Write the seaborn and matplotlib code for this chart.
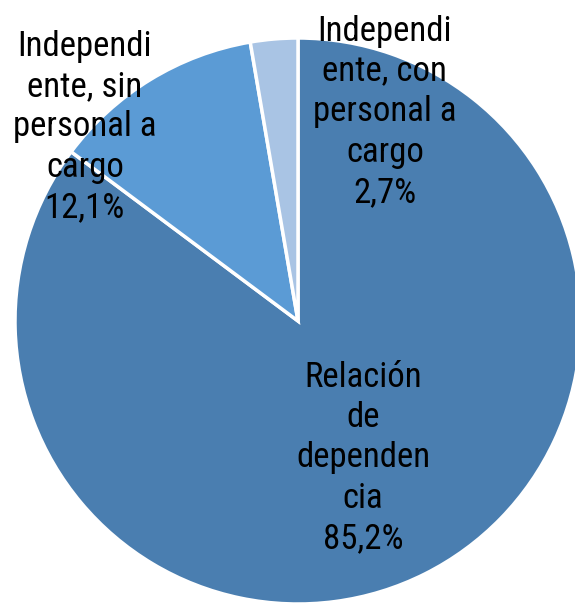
import matplotlib
matplotlib.use("Agg")
import matplotlib.pyplot as plt
import seaborn as sns

sns.set_style("white")

categories = ["Relación\nde\ndependen\ncia", "Independi\nente, sin\npersonal a\ncargo", "Independi\nente, con\npersonal a\ncargo"]
values = [85.2, 12.1, 2.7]
pct_labels = ["85,2%", "12,1%", "2,7%"]
colors = ["#4a7eb0", "#5b9bd5", "#a9c4e4"]

plt.rcParams["font.family"] = ["Roboto Condensed", "Archivo Narrow", "Liberation Sans", "DejaVu Sans"]

W, H = 575, 603
fig = plt.figure(figsize=(W / 100, H / 100), dpi=100)
cx, cy, R = 298, 321, 283
ax = fig.add_axes([(cx - R) / W, (H - cy - R) / H, 2 * R / W, 2 * R / H])
ax.pie(values, colors=colors, startangle=90, counterclock=False, radius=1,
       wedgeprops=dict(edgecolor="white", linewidth=2.5))
ax.set_xlim(-1, 1)
ax.set_ylim(-1, 1)
ax.set_aspect("equal")
ax.axis("off")
for sp in ax.patches:
    sp.set_clip_on(False)

label_pos = [(0.230, -0.484), (-0.753, 0.686), (0.307, 0.739)]
for cat, pct, (x, y) in zip(categories, pct_labels, label_pos):
    ax.text(x, y, cat + "\n" + pct, ha="center", va="center", fontsize=25,
            linespacing=1.28, color="black", clip_on=False)

fig.savefig("out.png", dpi=100)
